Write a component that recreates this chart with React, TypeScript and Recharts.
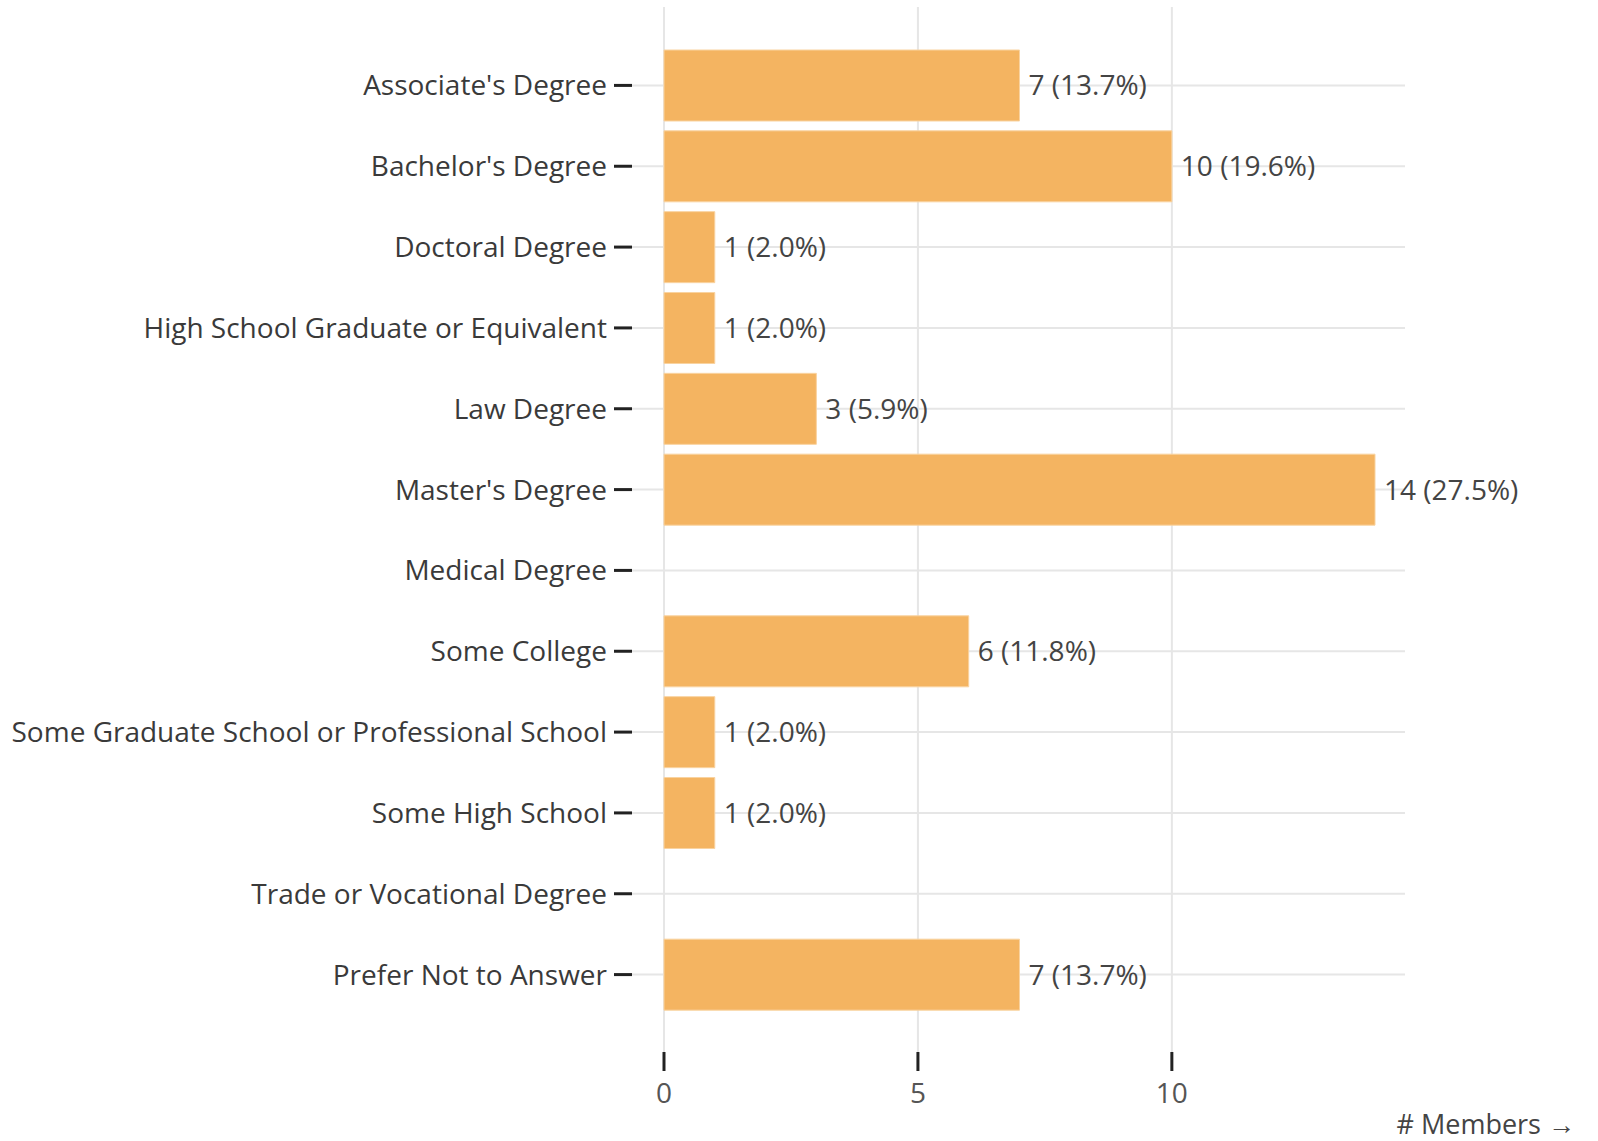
import React from "react"
import {
  Bar,
  BarChart,
  CartesianGrid,
  LabelList,
  XAxis,
  YAxis,
} from "recharts"

const categories = [
  "Associate's Degree",
  "Bachelor's Degree",
  "Doctoral Degree",
  "High School Graduate or Equivalent",
  "Law Degree",
  "Master's Degree",
  "Medical Degree",
  "Some College",
  "Some Graduate School or Professional School",
  "Some High School",
  "Trade or Vocational Degree",
  "Prefer Not to Answer",
]

const members = [7, 10, 1, 1, 3, 14, 0, 6, 1, 1, 0, 7]

const xTicks = [0, 5, 10]

const total = members.reduce((a, b) => a + b, 0)

const data = categories.map((name, i) => ({ name, members: members[i] }))

const FONT = "'Segoe UI', 'Open Sans', 'Noto Sans', sans-serif"

const fmtLabel = (v: any) => {
  const n = Number(v)
  if (!n) return ""
  return `${n} (${((n / total) * 100).toFixed(1)}%)`
}

const AxisTitle = (props: any) => {
  const { viewBox } = props
  return (
    <text
      x={viewBox.x + viewBox.width + 170}
      y={viewBox.y + 82}
      textAnchor="end"
      fontSize={27}
      fontFamily={FONT}
      fill="#444"
    >
      # Members →
    </text>
  )
}

export default function App() {
  return (
    <div style={{ position: "absolute", left: 0, top: 0, background: "#fff" }}>
      <BarChart
        width={1598}
        height={1141}
        data={data}
        layout="vertical"
        margin={{ top: 7, right: 193, bottom: 0, left: 0 }}
      >
        <CartesianGrid stroke="#e6e6e6" strokeWidth={2} syncWithTicks />
        <XAxis
          type="number"
          dataKey="members"
          domain={[0, 14]}
          ticks={xTicks}
          padding={{ left: 32, right: 30 }}
          height={89}
          axisLine={false}
          tickSize={19}
          tickMargin={12}
          tickLine={{ stroke: "#222", strokeWidth: 3 }}
          tick={{ fill: "#555", fontSize: 28, fontFamily: FONT }}
          label={<AxisTitle />}
        />
        <YAxis
          type="category"
          dataKey="name"
          width={632}
          interval={0}
          padding={{ top: 38, bottom: 37 }}
          axisLine={false}
          tickSize={18}
          tickMargin={7}
          tickLine={{ stroke: "#222", strokeWidth: 3 }}
          tick={{ fill: "#3a3a3a", fontSize: 28, fontFamily: FONT }}
        />
        <Bar
          dataKey="members"
          fill="#f4b461"
          stroke="#f9d3a0"
          strokeWidth={1}
          barSize={71}
          isAnimationActive={false}
        >
          <LabelList
            dataKey="members"
            position="right"
            offset={9}
            formatter={fmtLabel}
            style={{ fill: "#444", fontSize: 28, fontFamily: FONT }}
          />
        </Bar>
      </BarChart>
    </div>
  )
}
